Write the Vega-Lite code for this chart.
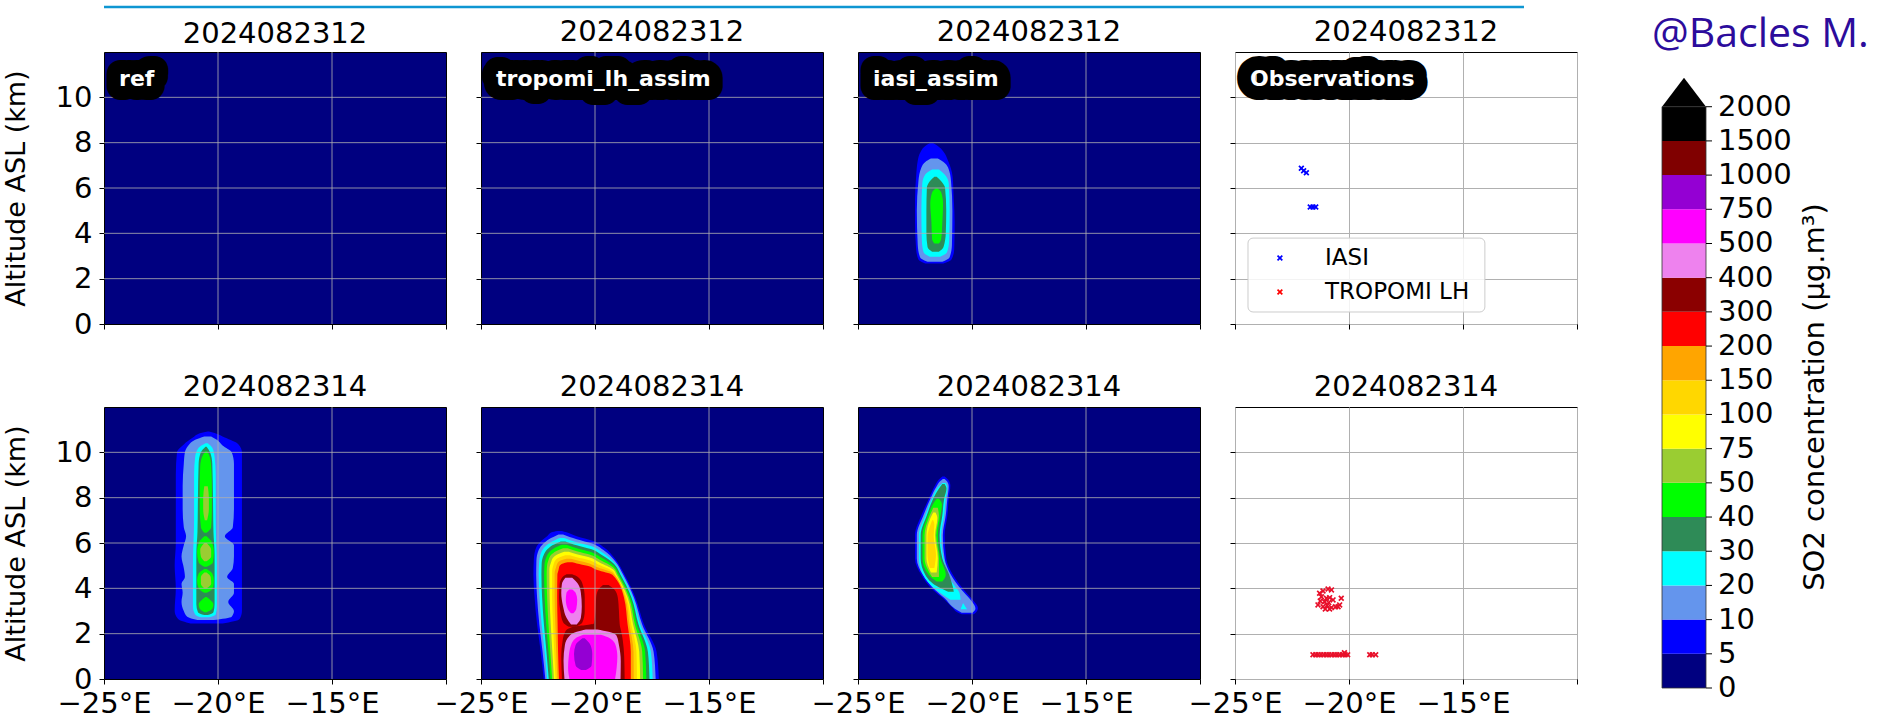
{
"padding": {"left": 1, "top": 5, "right": 0, "bottom": 0},
"autosize": {"type": "pad"},
"background": "white",
"config": {
  "font": "DejaVu Sans",
  "view": {"stroke": "black", "strokeWidth": 1},
  "axis": {"labelFontSize": 29, "labelFont": "DejaVu Sans", "labelColor": "black", "tickColor": "black", "tickSize": 5, "tickWidth": 1, "domain": false, "grid": false, "labelFlush": false, "labelOverlap": false, "titleFont": "DejaVu Sans", "titleFontWeight": "normal", "titleColor": "black"},
  "title": {"fontSize": 29, "font": "DejaVu Sans", "fontWeight": "normal", "color": "black", "frame": "group", "offset": 5, "baseline": "alphabetic", "anchor": "middle"}
},
"datasets": {
"cbar": [{"b":"b00","i":0,"i1":1},{"b":"b01","i":1,"i1":2},{"b":"b02","i":2,"i1":3},{"b":"b03","i":3,"i1":4},{"b":"b04","i":4,"i1":5},{"b":"b05","i":5,"i1":6},{"b":"b06","i":6,"i1":7},{"b":"b07","i":7,"i1":8},{"b":"b08","i":8,"i1":9},{"b":"b09","i":9,"i1":10},{"b":"b10","i":10,"i1":11},{"b":"b11","i":11,"i1":12},{"b":"b12","i":12,"i1":13},{"b":"b13","i":13,"i1":14},{"b":"b14","i":14,"i1":15},{"b":"b15","i":15,"i1":16},{"b":"b16","i":16,"i1":17}],
"cblab": [{"v":0,"lab":"0"},{"v":1,"lab":"5"},{"v":2,"lab":"10"},{"v":3,"lab":"20"},{"v":4,"lab":"30"},{"v":5,"lab":"40"},{"v":6,"lab":"50"},{"v":7,"lab":"75"},{"v":8,"lab":"100"},{"v":9,"lab":"150"},{"v":10,"lab":"200"},{"v":11,"lab":"300"},{"v":12,"lab":"400"},{"v":13,"lab":"500"},{"v":14,"lab":"750"},{"v":15,"lab":"1000"},{"v":16,"lab":"1500"},{"v":17,"lab":"2000"}],
"obs": [
{"t":"12","s":"IASI","lon":-22.09,"alt":6.87},{"t":"12","s":"IASI","lon":-21.99,"alt":6.76},{"t":"12","s":"IASI","lon":-21.87,"alt":6.67},
{"t":"12","s":"IASI","lon":-21.70,"alt":5.16},{"t":"12","s":"IASI","lon":-21.58,"alt":5.16},{"t":"12","s":"IASI","lon":-21.46,"alt":5.16},
{"t":"14","s":"TROPOMI LH","lon":-21.29,"alt":3.78},{"t":"14","s":"TROPOMI LH","lon":-21.14,"alt":3.88},{"t":"14","s":"TROPOMI LH","lon":-20.92,"alt":3.97},
{"t":"14","s":"TROPOMI LH","lon":-20.77,"alt":3.93},{"t":"14","s":"TROPOMI LH","lon":-21.21,"alt":3.63},{"t":"14","s":"TROPOMI LH","lon":-20.99,"alt":3.56},
{"t":"14","s":"TROPOMI LH","lon":-20.85,"alt":3.59},{"t":"14","s":"TROPOMI LH","lon":-20.70,"alt":3.49},{"t":"14","s":"TROPOMI LH","lon":-21.36,"alt":3.27},
{"t":"14","s":"TROPOMI LH","lon":-21.14,"alt":3.19},{"t":"14","s":"TROPOMI LH","lon":-20.96,"alt":3.24},{"t":"14","s":"TROPOMI LH","lon":-20.77,"alt":3.15},
{"t":"14","s":"TROPOMI LH","lon":-20.59,"alt":3.19},{"t":"14","s":"TROPOMI LH","lon":-20.41,"alt":3.27},{"t":"14","s":"TROPOMI LH","lon":-20.34,"alt":3.56},
{"t":"14","s":"TROPOMI LH","lon":-21.07,"alt":3.41},{"t":"14","s":"TROPOMI LH","lon":-20.89,"alt":3.37},{"t":"14","s":"TROPOMI LH","lon":-21.26,"alt":3.44},
{"t":"14","s":"TROPOMI LH","lon":-20.48,"alt":3.19},{"t":"14","s":"TROPOMI LH","lon":-20.85,"alt":3.09},{"t":"14","s":"TROPOMI LH","lon":-21.04,"alt":3.09},
{"t":"14","s":"TROPOMI LH","lon":-21.58,"alt":1.07},{"t":"14","s":"TROPOMI LH","lon":-21.46,"alt":1.07},{"t":"14","s":"TROPOMI LH","lon":-21.35,"alt":1.07},
{"t":"14","s":"TROPOMI LH","lon":-21.23,"alt":1.07},{"t":"14","s":"TROPOMI LH","lon":-21.11,"alt":1.07},{"t":"14","s":"TROPOMI LH","lon":-20.99,"alt":1.07},
{"t":"14","s":"TROPOMI LH","lon":-20.88,"alt":1.07},{"t":"14","s":"TROPOMI LH","lon":-20.76,"alt":1.07},{"t":"14","s":"TROPOMI LH","lon":-20.64,"alt":1.07},
{"t":"14","s":"TROPOMI LH","lon":-20.53,"alt":1.07},{"t":"14","s":"TROPOMI LH","lon":-20.41,"alt":1.07},{"t":"14","s":"TROPOMI LH","lon":-20.29,"alt":1.07},
{"t":"14","s":"TROPOMI LH","lon":-20.17,"alt":1.07},{"t":"14","s":"TROPOMI LH","lon":-20.06,"alt":1.07},{"t":"14","s":"TROPOMI LH","lon":-20.20,"alt":1.16},
{"t":"14","s":"TROPOMI LH","lon":-19.09,"alt":1.07},{"t":"14","s":"TROPOMI LH","lon":-18.98,"alt":1.07},{"t":"14","s":"TROPOMI LH","lon":-18.83,"alt":1.07}
],
"cont": [
{"p":"iasi12","b":"b01","k":"01a","alt":2.67,"lo":-22.05,"hi":-21.25},{"p":"iasi12","b":"b01","k":"01a","alt":2.85,"lo":-22.35,"hi":-20.90},{"p":"iasi12","b":"b01","k":"01a","alt":3.30,"lo":-22.45,"hi":-20.78},{"p":"iasi12","b":"b01","k":"01a","alt":4.50,"lo":-22.50,"hi":-20.76},{"p":"iasi12","b":"b01","k":"01a","alt":5.50,"lo":-22.50,"hi":-20.80},{"p":"iasi12","b":"b01","k":"01a","alt":6.50,"lo":-22.45,"hi":-20.85},{"p":"iasi12","b":"b01","k":"01a","alt":7.20,"lo":-22.38,"hi":-21.05},{"p":"iasi12","b":"b01","k":"01a","alt":7.60,"lo":-22.25,"hi":-21.25},{"p":"iasi12","b":"b01","k":"01a","alt":7.85,"lo":-22.05,"hi":-21.50},{"p":"iasi12","b":"b01","k":"01a","alt":7.97,"lo":-21.85,"hi":-21.70},
{"p":"iasi12","b":"b02","k":"02a","alt":2.75,"lo":-21.95,"hi":-21.30},{"p":"iasi12","b":"b02","k":"02a","alt":2.95,"lo":-22.28,"hi":-20.98},{"p":"iasi12","b":"b02","k":"02a","alt":3.50,"lo":-22.38,"hi":-20.88},{"p":"iasi12","b":"b02","k":"02a","alt":5.00,"lo":-22.42,"hi":-20.86},{"p":"iasi12","b":"b02","k":"02a","alt":6.30,"lo":-22.35,"hi":-20.92},{"p":"iasi12","b":"b02","k":"02a","alt":6.90,"lo":-22.22,"hi":-21.05},{"p":"iasi12","b":"b02","k":"02a","alt":7.15,"lo":-22.05,"hi":-21.25},{"p":"iasi12","b":"b02","k":"02a","alt":7.30,"lo":-21.80,"hi":-21.50},
{"p":"iasi12","b":"b03","k":"03a","alt":2.97,"lo":-21.85,"hi":-21.40},{"p":"iasi12","b":"b03","k":"03a","alt":3.15,"lo":-22.12,"hi":-21.10},{"p":"iasi12","b":"b03","k":"03a","alt":3.70,"lo":-22.20,"hi":-21.00},{"p":"iasi12","b":"b03","k":"03a","alt":5.00,"lo":-22.22,"hi":-20.98},{"p":"iasi12","b":"b03","k":"03a","alt":6.20,"lo":-22.18,"hi":-21.02},{"p":"iasi12","b":"b03","k":"03a","alt":6.60,"lo":-22.05,"hi":-21.20},{"p":"iasi12","b":"b03","k":"03a","alt":6.82,"lo":-21.75,"hi":-21.45},
{"p":"iasi12","b":"b04","k":"04a","alt":3.19,"lo":-21.75,"hi":-21.45},{"p":"iasi12","b":"b04","k":"04a","alt":3.40,"lo":-21.95,"hi":-21.25},{"p":"iasi12","b":"b04","k":"04a","alt":4.00,"lo":-22.00,"hi":-21.15},{"p":"iasi12","b":"b04","k":"04a","alt":5.00,"lo":-22.00,"hi":-21.13},{"p":"iasi12","b":"b04","k":"04a","alt":6.00,"lo":-21.98,"hi":-21.18},{"p":"iasi12","b":"b04","k":"04a","alt":6.30,"lo":-21.85,"hi":-21.35},{"p":"iasi12","b":"b04","k":"04a","alt":6.50,"lo":-21.65,"hi":-21.55},
{"p":"iasi12","b":"b05","k":"05a","alt":3.55,"lo":-21.65,"hi":-21.45},{"p":"iasi12","b":"b05","k":"05a","alt":3.75,"lo":-21.75,"hi":-21.35},{"p":"iasi12","b":"b05","k":"05a","alt":4.50,"lo":-21.78,"hi":-21.30},{"p":"iasi12","b":"b05","k":"05a","alt":5.30,"lo":-21.83,"hi":-21.27},{"p":"iasi12","b":"b05","k":"05a","alt":5.80,"lo":-21.75,"hi":-21.35},{"p":"iasi12","b":"b05","k":"05a","alt":5.98,"lo":-21.60,"hi":-21.50},

{"p":"ref14","b":"b01","k":"01a","alt":2.45,"lo":-21.2,"hi":-19.8},{"p":"ref14","b":"b01","k":"01a","alt":2.65,"lo":-21.75,"hi":-19.05},{"p":"ref14","b":"b01","k":"01a","alt":3.0,"lo":-21.9,"hi":-18.95},{"p":"ref14","b":"b01","k":"01a","alt":4.0,"lo":-21.85,"hi":-18.95},{"p":"ref14","b":"b01","k":"01a","alt":5.0,"lo":-21.9,"hi":-18.95},{"p":"ref14","b":"b01","k":"01a","alt":6.0,"lo":-21.85,"hi":-18.95},{"p":"ref14","b":"b01","k":"01a","alt":7.0,"lo":-21.85,"hi":-18.95},{"p":"ref14","b":"b01","k":"01a","alt":8.0,"lo":-21.85,"hi":-18.95},{"p":"ref14","b":"b01","k":"01a","alt":9.0,"lo":-21.85,"hi":-18.95},{"p":"ref14","b":"b01","k":"01a","alt":10.0,"lo":-21.8,"hi":-18.95},{"p":"ref14","b":"b01","k":"01a","alt":10.35,"lo":-21.5,"hi":-19.1},{"p":"ref14","b":"b01","k":"01a","alt":10.65,"lo":-21.1,"hi":-19.7},{"p":"ref14","b":"b01","k":"01a","alt":10.85,"lo":-20.75,"hi":-20.15},{"p":"ref14","b":"b01","k":"01a","alt":10.92,"lo":-20.45,"hi":-20.4},
{"p":"ref14","b":"b02","k":"02a","alt":2.6,"lo":-20.9,"hi":-20.2},{"p":"ref14","b":"b02","k":"02a","alt":2.75,"lo":-21.35,"hi":-19.4},{"p":"ref14","b":"b02","k":"02a","alt":3.0,"lo":-21.5,"hi":-19.3},{"p":"ref14","b":"b02","k":"02a","alt":3.4,"lo":-21.6,"hi":-19.55},{"p":"ref14","b":"b02","k":"02a","alt":3.8,"lo":-21.55,"hi":-19.3},{"p":"ref14","b":"b02","k":"02a","alt":4.2,"lo":-21.6,"hi":-19.3},{"p":"ref14","b":"b02","k":"02a","alt":4.5,"lo":-21.45,"hi":-19.6},{"p":"ref14","b":"b02","k":"02a","alt":4.9,"lo":-21.5,"hi":-19.35},{"p":"ref14","b":"b02","k":"02a","alt":5.4,"lo":-21.6,"hi":-19.3},{"p":"ref14","b":"b02","k":"02a","alt":5.9,"lo":-21.5,"hi":-19.3},{"p":"ref14","b":"b02","k":"02a","alt":6.3,"lo":-21.4,"hi":-19.7},{"p":"ref14","b":"b02","k":"02a","alt":6.7,"lo":-21.5,"hi":-19.35},{"p":"ref14","b":"b02","k":"02a","alt":7.5,"lo":-21.55,"hi":-19.3},{"p":"ref14","b":"b02","k":"02a","alt":8.5,"lo":-21.55,"hi":-19.3},{"p":"ref14","b":"b02","k":"02a","alt":9.5,"lo":-21.5,"hi":-19.3},{"p":"ref14","b":"b02","k":"02a","alt":10.0,"lo":-21.45,"hi":-19.4},{"p":"ref14","b":"b02","k":"02a","alt":10.3,"lo":-21.3,"hi":-19.8},{"p":"ref14","b":"b02","k":"02a","alt":10.55,"lo":-21.0,"hi":-20.05},{"p":"ref14","b":"b02","k":"02a","alt":10.7,"lo":-20.6,"hi":-20.3},
{"p":"ref14","b":"b03","k":"03a","alt":2.72,"lo":-20.75,"hi":-20.4},{"p":"ref14","b":"b03","k":"03a","alt":2.85,"lo":-21.0,"hi":-20.1},{"p":"ref14","b":"b03","k":"03a","alt":3.2,"lo":-21.1,"hi":-20.05},{"p":"ref14","b":"b03","k":"03a","alt":5.0,"lo":-21.1,"hi":-20.05},{"p":"ref14","b":"b03","k":"03a","alt":7.0,"lo":-21.05,"hi":-20.1},{"p":"ref14","b":"b03","k":"03a","alt":9.0,"lo":-21.05,"hi":-20.1},{"p":"ref14","b":"b03","k":"03a","alt":9.8,"lo":-21.0,"hi":-20.15},{"p":"ref14","b":"b03","k":"03a","alt":10.2,"lo":-20.85,"hi":-20.25},{"p":"ref14","b":"b03","k":"03a","alt":10.4,"lo":-20.55,"hi":-20.45},
{"p":"ref14","b":"b04","k":"04a","alt":2.82,"lo":-20.6,"hi":-20.45},{"p":"ref14","b":"b04","k":"04a","alt":2.95,"lo":-20.88,"hi":-20.2},{"p":"ref14","b":"b04","k":"04a","alt":3.3,"lo":-20.95,"hi":-20.15},{"p":"ref14","b":"b04","k":"04a","alt":5.5,"lo":-20.95,"hi":-20.15},{"p":"ref14","b":"b04","k":"04a","alt":6.5,"lo":-20.9,"hi":-20.2},{"p":"ref14","b":"b04","k":"04a","alt":8.0,"lo":-20.88,"hi":-20.22},{"p":"ref14","b":"b04","k":"04a","alt":9.5,"lo":-20.85,"hi":-20.25},{"p":"ref14","b":"b04","k":"04a","alt":10.0,"lo":-20.75,"hi":-20.35},{"p":"ref14","b":"b04","k":"04a","alt":10.25,"lo":-20.55,"hi":-20.5},
{"p":"ref14","b":"b05","k":"05a","alt":6.45,"lo":-20.6,"hi":-20.5},{"p":"ref14","b":"b05","k":"05a","alt":6.7,"lo":-20.75,"hi":-20.3},{"p":"ref14","b":"b05","k":"05a","alt":7.5,"lo":-20.8,"hi":-20.27},{"p":"ref14","b":"b05","k":"05a","alt":8.5,"lo":-20.8,"hi":-20.27},{"p":"ref14","b":"b05","k":"05a","alt":9.4,"lo":-20.78,"hi":-20.3},{"p":"ref14","b":"b05","k":"05a","alt":9.9,"lo":-20.65,"hi":-20.4},{"p":"ref14","b":"b05","k":"05a","alt":10.05,"lo":-20.55,"hi":-20.48},
{"p":"ref14","b":"b05","k":"05b","alt":4.95,"lo":-20.6,"hi":-20.5},{"p":"ref14","b":"b05","k":"05b","alt":5.15,"lo":-20.85,"hi":-20.22},{"p":"ref14","b":"b05","k":"05b","alt":5.6,"lo":-20.92,"hi":-20.18},{"p":"ref14","b":"b05","k":"05b","alt":6.0,"lo":-20.85,"hi":-20.25},{"p":"ref14","b":"b05","k":"05b","alt":6.3,"lo":-20.6,"hi":-20.5},
{"p":"ref14","b":"b05","k":"05c","alt":3.8,"lo":-20.6,"hi":-20.5},{"p":"ref14","b":"b05","k":"05c","alt":4.0,"lo":-20.85,"hi":-20.22},{"p":"ref14","b":"b05","k":"05c","alt":4.35,"lo":-20.92,"hi":-20.18},{"p":"ref14","b":"b05","k":"05c","alt":4.65,"lo":-20.85,"hi":-20.25},{"p":"ref14","b":"b05","k":"05c","alt":4.85,"lo":-20.6,"hi":-20.5},
{"p":"ref14","b":"b05","k":"05d","alt":2.95,"lo":-20.6,"hi":-20.5},{"p":"ref14","b":"b05","k":"05d","alt":3.1,"lo":-20.8,"hi":-20.25},{"p":"ref14","b":"b05","k":"05d","alt":3.3,"lo":-20.85,"hi":-20.2},{"p":"ref14","b":"b05","k":"05d","alt":3.5,"lo":-20.7,"hi":-20.35},{"p":"ref14","b":"b05","k":"05d","alt":3.62,"lo":-20.55,"hi":-20.5},
{"p":"ref14","b":"b06","k":"06a","alt":7.0,"lo":-20.58,"hi":-20.48},{"p":"ref14","b":"b06","k":"06a","alt":7.5,"lo":-20.65,"hi":-20.4},{"p":"ref14","b":"b06","k":"06a","alt":8.0,"lo":-20.65,"hi":-20.4},{"p":"ref14","b":"b06","k":"06a","alt":8.5,"lo":-20.6,"hi":-20.45},
{"p":"ref14","b":"b06","k":"06b","alt":5.2,"lo":-20.6,"hi":-20.5},{"p":"ref14","b":"b06","k":"06b","alt":5.4,"lo":-20.75,"hi":-20.3},{"p":"ref14","b":"b06","k":"06b","alt":5.7,"lo":-20.78,"hi":-20.3},{"p":"ref14","b":"b06","k":"06b","alt":6.0,"lo":-20.6,"hi":-20.5},
{"p":"ref14","b":"b06","k":"06c","alt":4.0,"lo":-20.6,"hi":-20.5},{"p":"ref14","b":"b06","k":"06c","alt":4.2,"lo":-20.75,"hi":-20.3},{"p":"ref14","b":"b06","k":"06c","alt":4.5,"lo":-20.75,"hi":-20.32},{"p":"ref14","b":"b06","k":"06c","alt":4.7,"lo":-20.6,"hi":-20.5},

{"p":"trop14","b":"b01","k":"01a","alt":0.00,"lo":-22.25,"hi":-17.20},{"p":"trop14","b":"b01","k":"01a","alt":1.20,"lo":-22.38,"hi":-17.30},{"p":"trop14","b":"b01","k":"01a","alt":2.40,"lo":-22.54,"hi":-17.85},{"p":"trop14","b":"b01","k":"01a","alt":3.60,"lo":-22.65,"hi":-18.23},{"p":"trop14","b":"b01","k":"01a","alt":4.60,"lo":-22.70,"hi":-18.70},{"p":"trop14","b":"b01","k":"01a","alt":5.30,"lo":-22.68,"hi":-19.12},{"p":"trop14","b":"b01","k":"01a","alt":5.80,"lo":-22.58,"hi":-19.60},{"p":"trop14","b":"b01","k":"01a","alt":6.10,"lo":-22.35,"hi":-20.10},{"p":"trop14","b":"b01","k":"01a","alt":6.30,"lo":-22.10,"hi":-20.80},{"p":"trop14","b":"b01","k":"01a","alt":6.47,"lo":-21.90,"hi":-21.25},{"p":"trop14","b":"b01","k":"01a","alt":6.53,"lo":-21.65,"hi":-21.45},
{"p":"trop14","b":"b02","k":"02a","alt":0.00,"lo":-22.18,"hi":-17.34},{"p":"trop14","b":"b02","k":"02a","alt":1.20,"lo":-22.30,"hi":-17.43},{"p":"trop14","b":"b02","k":"02a","alt":2.40,"lo":-22.44,"hi":-17.93},{"p":"trop14","b":"b02","k":"02a","alt":3.60,"lo":-22.54,"hi":-18.29},{"p":"trop14","b":"b02","k":"02a","alt":4.60,"lo":-22.58,"hi":-18.76},{"p":"trop14","b":"b02","k":"02a","alt":5.22,"lo":-22.57,"hi":-19.13},{"p":"trop14","b":"b02","k":"02a","alt":5.69,"lo":-22.47,"hi":-19.63},{"p":"trop14","b":"b02","k":"02a","alt":5.98,"lo":-22.26,"hi":-20.13},{"p":"trop14","b":"b02","k":"02a","alt":6.17,"lo":-22.02,"hi":-20.80},{"p":"trop14","b":"b02","k":"02a","alt":6.38,"lo":-21.60,"hi":-21.40},
{"p":"trop14","b":"b03","k":"03a","alt":0.00,"lo":-22.10,"hi":-17.47},{"p":"trop14","b":"b03","k":"03a","alt":1.20,"lo":-22.21,"hi":-17.55},{"p":"trop14","b":"b03","k":"03a","alt":2.40,"lo":-22.34,"hi":-18.01},{"p":"trop14","b":"b03","k":"03a","alt":3.60,"lo":-22.43,"hi":-18.34},{"p":"trop14","b":"b03","k":"03a","alt":4.60,"lo":-22.47,"hi":-18.82},{"p":"trop14","b":"b03","k":"03a","alt":5.14,"lo":-22.45,"hi":-19.15},{"p":"trop14","b":"b03","k":"03a","alt":5.58,"lo":-22.36,"hi":-19.67},{"p":"trop14","b":"b03","k":"03a","alt":5.86,"lo":-22.17,"hi":-20.15},{"p":"trop14","b":"b03","k":"03a","alt":6.03,"lo":-21.94,"hi":-20.80},{"p":"trop14","b":"b03","k":"03a","alt":6.22,"lo":-21.55,"hi":-21.35},
{"p":"trop14","b":"b04","k":"04a","alt":0.00,"lo":-22.03,"hi":-17.61},{"p":"trop14","b":"b04","k":"04a","alt":1.20,"lo":-22.13,"hi":-17.68},{"p":"trop14","b":"b04","k":"04a","alt":2.40,"lo":-22.24,"hi":-18.09},{"p":"trop14","b":"b04","k":"04a","alt":3.60,"lo":-22.32,"hi":-18.40},{"p":"trop14","b":"b04","k":"04a","alt":4.60,"lo":-22.35,"hi":-18.88},{"p":"trop14","b":"b04","k":"04a","alt":5.07,"lo":-22.34,"hi":-19.16},{"p":"trop14","b":"b04","k":"04a","alt":5.47,"lo":-22.25,"hi":-19.70},{"p":"trop14","b":"b04","k":"04a","alt":5.73,"lo":-22.08,"hi":-20.18},{"p":"trop14","b":"b04","k":"04a","alt":5.90,"lo":-21.87,"hi":-20.80},{"p":"trop14","b":"b04","k":"04a","alt":6.07,"lo":-21.50,"hi":-21.30},
{"p":"trop14","b":"b05","k":"05a","alt":0.00,"lo":-21.95,"hi":-17.75},{"p":"trop14","b":"b05","k":"05a","alt":1.20,"lo":-22.04,"hi":-17.80},{"p":"trop14","b":"b05","k":"05a","alt":2.40,"lo":-22.14,"hi":-18.17},{"p":"trop14","b":"b05","k":"05a","alt":3.60,"lo":-22.21,"hi":-18.45},{"p":"trop14","b":"b05","k":"05a","alt":4.60,"lo":-22.23,"hi":-18.94},{"p":"trop14","b":"b05","k":"05a","alt":4.99,"lo":-22.22,"hi":-19.17},{"p":"trop14","b":"b05","k":"05a","alt":5.36,"lo":-22.14,"hi":-19.73},{"p":"trop14","b":"b05","k":"05a","alt":5.61,"lo":-21.99,"hi":-20.21},{"p":"trop14","b":"b05","k":"05a","alt":5.77,"lo":-21.79,"hi":-20.80},{"p":"trop14","b":"b05","k":"05a","alt":5.92,"lo":-21.45,"hi":-21.25},
{"p":"trop14","b":"b06","k":"06a","alt":0.00,"lo":-21.88,"hi":-17.89},{"p":"trop14","b":"b06","k":"06a","alt":1.20,"lo":-21.96,"hi":-17.93},{"p":"trop14","b":"b06","k":"06a","alt":2.40,"lo":-22.04,"hi":-18.25},{"p":"trop14","b":"b06","k":"06a","alt":3.60,"lo":-22.10,"hi":-18.51},{"p":"trop14","b":"b06","k":"06a","alt":4.60,"lo":-22.12,"hi":-19.00},{"p":"trop14","b":"b06","k":"06a","alt":4.91,"lo":-22.11,"hi":-19.19},{"p":"trop14","b":"b06","k":"06a","alt":5.25,"lo":-22.04,"hi":-19.77},{"p":"trop14","b":"b06","k":"06a","alt":5.49,"lo":-21.91,"hi":-20.24},{"p":"trop14","b":"b06","k":"06a","alt":5.64,"lo":-21.71,"hi":-20.80},{"p":"trop14","b":"b06","k":"06a","alt":5.77,"lo":-21.40,"hi":-21.20},
{"p":"trop14","b":"b07","k":"07a","alt":0.00,"lo":-21.80,"hi":-18.02},{"p":"trop14","b":"b07","k":"07a","alt":1.20,"lo":-21.87,"hi":-18.06},{"p":"trop14","b":"b07","k":"07a","alt":2.40,"lo":-21.94,"hi":-18.33},{"p":"trop14","b":"b07","k":"07a","alt":3.60,"lo":-21.99,"hi":-18.57},{"p":"trop14","b":"b07","k":"07a","alt":4.60,"lo":-22.00,"hi":-19.06},{"p":"trop14","b":"b07","k":"07a","alt":4.83,"lo":-22.00,"hi":-19.20},{"p":"trop14","b":"b07","k":"07a","alt":5.14,"lo":-21.93,"hi":-19.80},{"p":"trop14","b":"b07","k":"07a","alt":5.37,"lo":-21.82,"hi":-20.26},{"p":"trop14","b":"b07","k":"07a","alt":5.50,"lo":-21.63,"hi":-20.80},{"p":"trop14","b":"b07","k":"07a","alt":5.61,"lo":-21.35,"hi":-21.15},
{"p":"trop14","b":"b08","k":"08a","alt":0.00,"lo":-21.73,"hi":-18.16},{"p":"trop14","b":"b08","k":"08a","alt":1.20,"lo":-21.79,"hi":-18.18},{"p":"trop14","b":"b08","k":"08a","alt":2.40,"lo":-21.84,"hi":-18.41},{"p":"trop14","b":"b08","k":"08a","alt":3.60,"lo":-21.88,"hi":-18.62},{"p":"trop14","b":"b08","k":"08a","alt":4.60,"lo":-21.88,"hi":-19.12},{"p":"trop14","b":"b08","k":"08a","alt":4.75,"lo":-21.88,"hi":-19.21},{"p":"trop14","b":"b08","k":"08a","alt":5.04,"lo":-21.82,"hi":-19.83},{"p":"trop14","b":"b08","k":"08a","alt":5.25,"lo":-21.73,"hi":-20.29},{"p":"trop14","b":"b08","k":"08a","alt":5.37,"lo":-21.55,"hi":-20.80},{"p":"trop14","b":"b08","k":"08a","alt":5.46,"lo":-21.30,"hi":-21.10},
{"p":"trop14","b":"b09","k":"09a","alt":0.00,"lo":-21.65,"hi":-18.30},{"p":"trop14","b":"b09","k":"09a","alt":1.20,"lo":-21.70,"hi":-18.31},{"p":"trop14","b":"b09","k":"09a","alt":2.40,"lo":-21.74,"hi":-18.49},{"p":"trop14","b":"b09","k":"09a","alt":3.60,"lo":-21.77,"hi":-18.68},{"p":"trop14","b":"b09","k":"09a","alt":4.68,"lo":-21.77,"hi":-19.22},{"p":"trop14","b":"b09","k":"09a","alt":4.92,"lo":-21.71,"hi":-19.86},{"p":"trop14","b":"b09","k":"09a","alt":5.12,"lo":-21.64,"hi":-20.32},{"p":"trop14","b":"b09","k":"09a","alt":5.24,"lo":-21.48,"hi":-20.80},{"p":"trop14","b":"b09","k":"09a","alt":5.31,"lo":-21.25,"hi":-21.05},
{"p":"trop14","b":"b10","k":"10a","alt":0.00,"lo":-21.58,"hi":-18.43},{"p":"trop14","b":"b10","k":"10a","alt":1.20,"lo":-21.62,"hi":-18.43},{"p":"trop14","b":"b10","k":"10a","alt":2.40,"lo":-21.64,"hi":-18.57},{"p":"trop14","b":"b10","k":"10a","alt":3.60,"lo":-21.66,"hi":-18.73},{"p":"trop14","b":"b10","k":"10a","alt":4.60,"lo":-21.65,"hi":-19.24},{"p":"trop14","b":"b10","k":"10a","alt":4.81,"lo":-21.60,"hi":-19.90},{"p":"trop14","b":"b10","k":"10a","alt":5.00,"lo":-21.55,"hi":-20.34},{"p":"trop14","b":"b10","k":"10a","alt":5.10,"lo":-21.40,"hi":-20.80},{"p":"trop14","b":"b10","k":"10a","alt":5.15,"lo":-21.20,"hi":-21.00},
{"p":"trop14","b":"b11","k":"11a","alt":0.00,"lo":-21.45,"hi":-18.70},{"p":"trop14","b":"b11","k":"11a","alt":1.00,"lo":-21.48,"hi":-18.72},{"p":"trop14","b":"b11","k":"11a","alt":1.70,"lo":-21.42,"hi":-18.78},{"p":"trop14","b":"b11","k":"11a","alt":2.10,"lo":-21.30,"hi":-18.85},{"p":"trop14","b":"b11","k":"11a","alt":2.30,"lo":-20.95,"hi":-18.90},{"p":"trop14","b":"b11","k":"11a","alt":2.45,"lo":-20.05,"hi":-18.92},{"p":"trop14","b":"b11","k":"11a","alt":3.00,"lo":-19.98,"hi":-18.95},{"p":"trop14","b":"b11","k":"11a","alt":3.60,"lo":-19.95,"hi":-19.00},{"p":"trop14","b":"b11","k":"11a","alt":3.95,"lo":-19.85,"hi":-19.15},{"p":"trop14","b":"b11","k":"11a","alt":4.15,"lo":-19.65,"hi":-19.40},
{"p":"trop14","b":"b11","k":"11b","alt":2.30,"lo":-21.15,"hi":-20.85},{"p":"trop14","b":"b11","k":"11b","alt":2.50,"lo":-21.40,"hi":-20.55},{"p":"trop14","b":"b11","k":"11b","alt":3.00,"lo":-21.52,"hi":-20.45},{"p":"trop14","b":"b11","k":"11b","alt":3.60,"lo":-21.58,"hi":-20.45},{"p":"trop14","b":"b11","k":"11b","alt":4.20,"lo":-21.55,"hi":-20.55},{"p":"trop14","b":"b11","k":"11b","alt":4.50,"lo":-21.42,"hi":-20.75},{"p":"trop14","b":"b11","k":"11b","alt":4.62,"lo":-21.25,"hi":-21.00},
{"p":"trop14","b":"b12","k":"12a","alt":2.40,"lo":-21.05,"hi":-20.80},{"p":"trop14","b":"b12","k":"12a","alt":2.70,"lo":-21.25,"hi":-20.62},{"p":"trop14","b":"b12","k":"12a","alt":3.20,"lo":-21.40,"hi":-20.58},{"p":"trop14","b":"b12","k":"12a","alt":3.80,"lo":-21.48,"hi":-20.62},{"p":"trop14","b":"b12","k":"12a","alt":4.20,"lo":-21.45,"hi":-20.75},{"p":"trop14","b":"b12","k":"12a","alt":4.47,"lo":-21.30,"hi":-21.00},
{"p":"trop14","b":"b12","k":"12b","alt":0.00,"lo":-21.34,"hi":-18.88},{"p":"trop14","b":"b12","k":"12b","alt":0.80,"lo":-21.38,"hi":-18.87},{"p":"trop14","b":"b12","k":"12b","alt":1.50,"lo":-21.32,"hi":-18.95},{"p":"trop14","b":"b12","k":"12b","alt":1.90,"lo":-21.12,"hi":-19.05},{"p":"trop14","b":"b12","k":"12b","alt":2.08,"lo":-20.80,"hi":-19.40},{"p":"trop14","b":"b12","k":"12b","alt":2.18,"lo":-20.40,"hi":-19.90},
{"p":"trop14","b":"b13","k":"13a","alt":2.90,"lo":-21.05,"hi":-20.95},{"p":"trop14","b":"b13","k":"13a","alt":3.10,"lo":-21.20,"hi":-20.82},{"p":"trop14","b":"b13","k":"13a","alt":3.50,"lo":-21.28,"hi":-20.78},{"p":"trop14","b":"b13","k":"13a","alt":3.80,"lo":-21.25,"hi":-20.85},{"p":"trop14","b":"b13","k":"13a","alt":3.95,"lo":-21.12,"hi":-21.00},
{"p":"trop14","b":"b13","k":"13b","alt":0.00,"lo":-21.12,"hi":-19.12},{"p":"trop14","b":"b13","k":"13b","alt":0.50,"lo":-21.18,"hi":-19.05},{"p":"trop14","b":"b13","k":"13b","alt":1.00,"lo":-21.15,"hi":-19.02},{"p":"trop14","b":"b13","k":"13b","alt":1.50,"lo":-21.05,"hi":-19.10},{"p":"trop14","b":"b13","k":"13b","alt":1.80,"lo":-20.85,"hi":-19.35},{"p":"trop14","b":"b13","k":"13b","alt":1.95,"lo":-20.50,"hi":-19.75},
{"p":"trop14","b":"b14","k":"14a","alt":0.40,"lo":-20.60,"hi":-20.40},{"p":"trop14","b":"b14","k":"14a","alt":0.60,"lo":-20.85,"hi":-20.15},{"p":"trop14","b":"b14","k":"14a","alt":1.10,"lo":-20.92,"hi":-20.12},{"p":"trop14","b":"b14","k":"14a","alt":1.50,"lo":-20.85,"hi":-20.20},{"p":"trop14","b":"b14","k":"14a","alt":1.80,"lo":-20.55,"hi":-20.45},

{"p":"iasi14","b":"b01","k":"01a","alt":2.86,"lo":-20.45,"hi":-19.92},{"p":"iasi14","b":"b01","k":"01a","alt":2.95,"lo":-20.65,"hi":-19.82},{"p":"iasi14","b":"b01","k":"01a","alt":3.12,"lo":-20.83,"hi":-19.74},{"p":"iasi14","b":"b01","k":"01a","alt":3.56,"lo":-21.27,"hi":-20.03},{"p":"iasi14","b":"b01","k":"01a","alt":3.93,"lo":-21.71,"hi":-20.35},{"p":"iasi14","b":"b01","k":"01a","alt":4.59,"lo":-22.22,"hi":-20.83},{"p":"iasi14","b":"b01","k":"01a","alt":5.32,"lo":-22.50,"hi":-21.13},{"p":"iasi14","b":"b01","k":"01a","alt":6.34,"lo":-22.50,"hi":-21.20},{"p":"iasi14","b":"b01","k":"01a","alt":7.22,"lo":-22.22,"hi":-21.08},{"p":"iasi14","b":"b01","k":"01a","alt":7.96,"lo":-21.89,"hi":-21.02},{"p":"iasi14","b":"b01","k":"01a","alt":8.54,"lo":-21.62,"hi":-20.95},{"p":"iasi14","b":"b01","k":"01a","alt":8.80,"lo":-21.45,"hi":-21.05},{"p":"iasi14","b":"b01","k":"01a","alt":8.93,"lo":-21.30,"hi":-21.20},
{"p":"iasi14","b":"b02","k":"02a","alt":2.92,"lo":-20.45,"hi":-19.98},{"p":"iasi14","b":"b02","k":"02a","alt":3.10,"lo":-20.75,"hi":-19.85},{"p":"iasi14","b":"b02","k":"02a","alt":3.56,"lo":-21.20,"hi":-20.12},{"p":"iasi14","b":"b02","k":"02a","alt":3.93,"lo":-21.62,"hi":-20.45},{"p":"iasi14","b":"b02","k":"02a","alt":4.59,"lo":-22.15,"hi":-20.92},{"p":"iasi14","b":"b02","k":"02a","alt":5.32,"lo":-22.42,"hi":-21.20},{"p":"iasi14","b":"b02","k":"02a","alt":6.34,"lo":-22.42,"hi":-21.28},{"p":"iasi14","b":"b02","k":"02a","alt":7.22,"lo":-22.13,"hi":-21.15},{"p":"iasi14","b":"b02","k":"02a","alt":7.96,"lo":-21.82,"hi":-21.08},{"p":"iasi14","b":"b02","k":"02a","alt":8.50,"lo":-21.55,"hi":-21.02},{"p":"iasi14","b":"b02","k":"02a","alt":8.72,"lo":-21.40,"hi":-21.10},{"p":"iasi14","b":"b02","k":"02a","alt":8.82,"lo":-21.28,"hi":-21.20},
{"p":"iasi14","b":"b03","k":"03a","alt":3.50,"lo":-20.95,"hi":-20.50},{"p":"iasi14","b":"b03","k":"03a","alt":3.80,"lo":-21.40,"hi":-20.55},{"p":"iasi14","b":"b03","k":"03a","alt":4.30,"lo":-21.95,"hi":-20.90},{"p":"iasi14","b":"b03","k":"03a","alt":5.32,"lo":-22.33,"hi":-21.25},{"p":"iasi14","b":"b03","k":"03a","alt":6.34,"lo":-22.33,"hi":-21.35},{"p":"iasi14","b":"b03","k":"03a","alt":7.22,"lo":-22.05,"hi":-21.22},{"p":"iasi14","b":"b03","k":"03a","alt":7.96,"lo":-21.75,"hi":-21.15},{"p":"iasi14","b":"b03","k":"03a","alt":8.45,"lo":-21.50,"hi":-21.08},{"p":"iasi14","b":"b03","k":"03a","alt":8.65,"lo":-21.30,"hi":-21.15},
{"p":"iasi14","b":"b03","k":"03b","alt":3.08,"lo":-20.50,"hi":-20.22},{"p":"iasi14","b":"b03","k":"03b","alt":3.20,"lo":-20.45,"hi":-20.30},{"p":"iasi14","b":"b03","k":"03b","alt":3.33,"lo":-20.40,"hi":-20.37},
{"p":"iasi14","b":"b04","k":"04a","alt":3.85,"lo":-21.05,"hi":-20.80},{"p":"iasi14","b":"b04","k":"04a","alt":4.10,"lo":-21.55,"hi":-20.85},{"p":"iasi14","b":"b04","k":"04a","alt":4.60,"lo":-22.05,"hi":-21.00},{"p":"iasi14","b":"b04","k":"04a","alt":5.32,"lo":-22.25,"hi":-21.30},{"p":"iasi14","b":"b04","k":"04a","alt":6.34,"lo":-22.25,"hi":-21.42},{"p":"iasi14","b":"b04","k":"04a","alt":7.22,"lo":-21.98,"hi":-21.30},{"p":"iasi14","b":"b04","k":"04a","alt":7.96,"lo":-21.70,"hi":-21.22},{"p":"iasi14","b":"b04","k":"04a","alt":8.40,"lo":-21.45,"hi":-21.12},{"p":"iasi14","b":"b04","k":"04a","alt":8.60,"lo":-21.30,"hi":-21.20},
{"p":"iasi14","b":"b05","k":"05a","alt":4.30,"lo":-21.55,"hi":-21.30},{"p":"iasi14","b":"b05","k":"05a","alt":4.60,"lo":-21.90,"hi":-21.15},{"p":"iasi14","b":"b05","k":"05a","alt":5.32,"lo":-22.17,"hi":-21.38},{"p":"iasi14","b":"b05","k":"05a","alt":6.34,"lo":-22.17,"hi":-21.50},{"p":"iasi14","b":"b05","k":"05a","alt":7.22,"lo":-21.92,"hi":-21.38},{"p":"iasi14","b":"b05","k":"05a","alt":7.70,"lo":-21.72,"hi":-21.32},{"p":"iasi14","b":"b05","k":"05a","alt":7.95,"lo":-21.55,"hi":-21.45},
{"p":"iasi14","b":"b06","k":"06a","alt":4.50,"lo":-21.75,"hi":-21.45},{"p":"iasi14","b":"b06","k":"06a","alt":5.32,"lo":-22.08,"hi":-21.45},{"p":"iasi14","b":"b06","k":"06a","alt":6.34,"lo":-22.08,"hi":-21.57},{"p":"iasi14","b":"b06","k":"06a","alt":7.22,"lo":-21.85,"hi":-21.45},{"p":"iasi14","b":"b06","k":"06a","alt":7.55,"lo":-21.70,"hi":-21.50},
{"p":"iasi14","b":"b07","k":"07a","alt":4.70,"lo":-21.80,"hi":-21.55},{"p":"iasi14","b":"b07","k":"07a","alt":5.32,"lo":-22.00,"hi":-21.50},{"p":"iasi14","b":"b07","k":"07a","alt":6.34,"lo":-22.00,"hi":-21.62},{"p":"iasi14","b":"b07","k":"07a","alt":7.10,"lo":-21.82,"hi":-21.52},{"p":"iasi14","b":"b07","k":"07a","alt":7.35,"lo":-21.70,"hi":-21.60},
{"p":"iasi14","b":"b08","k":"08a","alt":4.90,"lo":-21.85,"hi":-21.65},{"p":"iasi14","b":"b08","k":"08a","alt":5.50,"lo":-21.95,"hi":-21.58},{"p":"iasi14","b":"b08","k":"08a","alt":6.30,"lo":-21.95,"hi":-21.68},{"p":"iasi14","b":"b08","k":"08a","alt":6.80,"lo":-21.82,"hi":-21.65},{"p":"iasi14","b":"b08","k":"08a","alt":7.00,"lo":-21.75,"hi":-21.70}
]
},
"hconcat": [
 {
  "vconcat": [
   {
    "hconcat": [
      {
        "width": 342, "height": 272,
        "view": {"fill": "#000080", "stroke": "black"},
        "layer": [
          {"data": {"name": "cont"}, "transform": [{"filter": "datum.p == 'ref12'"}],
           "mark": {"type": "area", "orient": "horizontal", "interpolate": "monotone", "clip": true},
           "encoding": {
             "y": {"field": "alt", "type": "quantitative", "scale": {"domain": [0, 12], "nice": false, "zero": false}, "axis": {"values": [0, 2, 4, 6, 8, 10], "title": "Altitude ASL (km)", "titleFontSize": 27, "labelPadding": 7, "titlePadding": 25}},
             "x": {"field": "lo", "type": "quantitative", "stack": null, "scale": {"domain": [-25, -10], "nice": false, "zero": false}, "axis": {"values": [-25, -20, -15, -10], "labels": false, "title": null}},
             "x2": {"field": "hi"},
             "color": {"field": "b", "type": "nominal", "scale": {"domain": ["b00","b01","b02","b03","b04","b05","b06","b07","b08","b09","b10","b11","b12","b13","b14","b15","b16"], "range": ["#000080","#0000ff","#6495ed","#00ffff","#2e8b57","#00ff00","#9acd32","#ffff00","#ffd700","#ffa500","#ff0000","#8b0000","#ee82ee","#ff00ff","#9400d3","#800000","#000000"]}, "legend": null},
             "detail": {"field": "k"}
           }},
          {"data": {"values": [{"g": -20}, {"g": -15}]}, "mark": {"type": "rule", "color": "#b0b0b0", "strokeWidth": 1, "opacity": 0.8}, "encoding": {"x": {"field": "g", "type": "quantitative"}}},
          {"data": {"values": [{"h": 2}, {"h": 4}, {"h": 6}, {"h": 8}, {"h": 10}]}, "mark": {"type": "rule", "color": "#b0b0b0", "strokeWidth": 1, "opacity": 0.8}, "encoding": {"y": {"field": "h", "type": "quantitative"}}},
          {"data": {"values": [{"name": "ref"}]}, "mark": {"type": "text", "align": "left", "baseline": "alphabetic", "fontSize": 22, "fontWeight": "bold", "font": "DejaVu Sans", "fill": "black", "stroke": "black", "strokeWidth": 28, "strokeJoin": "round"}, "encoding": {"x": {"datum": -24.34, "type": "quantitative"}, "y": {"datum": 10.5, "type": "quantitative"}, "text": {"field": "name"}}},
          {"data": {"values": [{"name": "ref"}]}, "mark": {"type": "text", "align": "left", "baseline": "alphabetic", "fontSize": 22, "fontWeight": "bold", "font": "DejaVu Sans", "fill": "white"}, "encoding": {"x": {"datum": -24.34, "type": "quantitative"}, "y": {"datum": 10.5, "type": "quantitative"}, "text": {"field": "name"}}},
          {"data": {"values": [{"name": "2024082312"}]}, "mark": {"type": "text", "align": "center", "baseline": "alphabetic", "fontSize": 29, "font": "DejaVu Sans", "color": "black"}, "encoding": {"x": {"datum": -17.5, "type": "quantitative"}, "y": {"datum": 12.397, "type": "quantitative"}, "text": {"field": "name"}}},
          {"data": {"values": [{"z": 1}]}, "mark": {"type": "rect", "color": "#0e96d2"}, "encoding": {"x": {"datum": -25, "type": "quantitative"}, "x2": {"datum": 37.28}, "y": {"datum": 13.93, "type": "quantitative"}, "y2": {"datum": 14.04}}}
        ]
      },
      {
        "width": 342, "height": 272, "title": "2024082312",
        "view": {"fill": "#000080", "stroke": "black"},
        "layer": [
          {"data": {"name": "cont"}, "transform": [{"filter": "datum.p == 'trop12'"}],
           "mark": {"type": "area", "orient": "horizontal", "interpolate": "monotone", "clip": true},
           "encoding": {
             "y": {"field": "alt", "type": "quantitative", "scale": {"domain": [0, 12], "nice": false, "zero": false}, "axis": {"values": [0, 2, 4, 6, 8, 10], "labels": false, "title": null}},
             "x": {"field": "lo", "type": "quantitative", "stack": null, "scale": {"domain": [-25, -10], "nice": false, "zero": false}, "axis": {"values": [-25, -20, -15, -10], "labels": false, "title": null}},
             "x2": {"field": "hi"},
             "color": {"field": "b", "type": "nominal", "scale": {"domain": ["b00","b01","b02","b03","b04","b05","b06","b07","b08","b09","b10","b11","b12","b13","b14","b15","b16"], "range": ["#000080","#0000ff","#6495ed","#00ffff","#2e8b57","#00ff00","#9acd32","#ffff00","#ffd700","#ffa500","#ff0000","#8b0000","#ee82ee","#ff00ff","#9400d3","#800000","#000000"]}, "legend": null},
             "detail": {"field": "k"}
           }},
          {"data": {"values": [{"g": -20}, {"g": -15}]}, "mark": {"type": "rule", "color": "#b0b0b0", "strokeWidth": 1, "opacity": 0.8}, "encoding": {"x": {"field": "g", "type": "quantitative"}}},
          {"data": {"values": [{"h": 2}, {"h": 4}, {"h": 6}, {"h": 8}, {"h": 10}]}, "mark": {"type": "rule", "color": "#b0b0b0", "strokeWidth": 1, "opacity": 0.8}, "encoding": {"y": {"field": "h", "type": "quantitative"}}},
          {"data": {"values": [{"name": "tropomi_lh_assim"}]}, "mark": {"type": "text", "align": "left", "baseline": "alphabetic", "fontSize": 22, "fontWeight": "bold", "font": "DejaVu Sans", "fill": "black", "stroke": "black", "strokeWidth": 28, "strokeJoin": "round"}, "encoding": {"x": {"datum": -24.34, "type": "quantitative"}, "y": {"datum": 10.5, "type": "quantitative"}, "text": {"field": "name"}}},
          {"data": {"values": [{"name": "tropomi_lh_assim"}]}, "mark": {"type": "text", "align": "left", "baseline": "alphabetic", "fontSize": 22, "fontWeight": "bold", "font": "DejaVu Sans", "fill": "white"}, "encoding": {"x": {"datum": -24.34, "type": "quantitative"}, "y": {"datum": 10.5, "type": "quantitative"}, "text": {"field": "name"}}}
        ]
      },
      {
        "width": 342, "height": 272, "title": "2024082312",
        "view": {"fill": "#000080", "stroke": "black"},
        "layer": [
          {"data": {"name": "cont"}, "transform": [{"filter": "datum.p == 'iasi12'"}],
           "mark": {"type": "area", "orient": "horizontal", "interpolate": "monotone", "clip": true},
           "encoding": {
             "y": {"field": "alt", "type": "quantitative", "scale": {"domain": [0, 12], "nice": false, "zero": false}, "axis": {"values": [0, 2, 4, 6, 8, 10], "labels": false, "title": null}},
             "x": {"field": "lo", "type": "quantitative", "stack": null, "scale": {"domain": [-25, -10], "nice": false, "zero": false}, "axis": {"values": [-25, -20, -15, -10], "labels": false, "title": null}},
             "x2": {"field": "hi"},
             "color": {"field": "b", "type": "nominal", "scale": {"domain": ["b00","b01","b02","b03","b04","b05","b06","b07","b08","b09","b10","b11","b12","b13","b14","b15","b16"], "range": ["#000080","#0000ff","#6495ed","#00ffff","#2e8b57","#00ff00","#9acd32","#ffff00","#ffd700","#ffa500","#ff0000","#8b0000","#ee82ee","#ff00ff","#9400d3","#800000","#000000"]}, "legend": null},
             "detail": {"field": "k"}
           }},
          {"data": {"values": [{"g": -20}, {"g": -15}]}, "mark": {"type": "rule", "color": "#b0b0b0", "strokeWidth": 1, "opacity": 0.8}, "encoding": {"x": {"field": "g", "type": "quantitative"}}},
          {"data": {"values": [{"h": 2}, {"h": 4}, {"h": 6}, {"h": 8}, {"h": 10}]}, "mark": {"type": "rule", "color": "#b0b0b0", "strokeWidth": 1, "opacity": 0.8}, "encoding": {"y": {"field": "h", "type": "quantitative"}}},
          {"data": {"values": [{"name": "iasi_assim"}]}, "mark": {"type": "text", "align": "left", "baseline": "alphabetic", "fontSize": 22, "fontWeight": "bold", "font": "DejaVu Sans", "fill": "black", "stroke": "black", "strokeWidth": 28, "strokeJoin": "round"}, "encoding": {"x": {"datum": -24.34, "type": "quantitative"}, "y": {"datum": 10.5, "type": "quantitative"}, "text": {"field": "name"}}},
          {"data": {"values": [{"name": "iasi_assim"}]}, "mark": {"type": "text", "align": "left", "baseline": "alphabetic", "fontSize": 22, "fontWeight": "bold", "font": "DejaVu Sans", "fill": "white"}, "encoding": {"x": {"datum": -24.34, "type": "quantitative"}, "y": {"datum": 10.5, "type": "quantitative"}, "text": {"field": "name"}}}
        ]
      },
      {
        "width": 342, "height": 272, "title": "2024082312",
        "view": {"fill": "white", "stroke": "black"},
        "layer": [
          {"data": {"name": "obs"}, "transform": [{"filter": "datum.t == '12'"}],
           "mark": {"type": "point", "filled": true, "size": 36, "opacity": 1, "color": "#0000ff", "shape": "M-1,-0.6L-0.6,-1L0,-0.4L0.6,-1L1,-0.6L0.4,0L1,0.6L0.6,1L0,0.4L-0.6,1L-1,0.6L-0.4,0Z"},
           "encoding": {
             "y": {"field": "alt", "type": "quantitative", "scale": {"domain": [0, 12], "nice": false, "zero": false}, "axis": {"values": [0, 2, 4, 6, 8, 10], "labels": false, "title": null, "grid": true, "gridColor": "#b0b0b0", "gridOpacity": 1}},
             "x": {"field": "lon", "type": "quantitative", "scale": {"domain": [-25, -10], "nice": false, "zero": false}, "axis": {"values": [-25, -20, -15, -10], "labels": false, "title": null, "grid": true, "gridColor": "#b0b0b0", "gridOpacity": 1}}
           }},
          {"data": {"values": [{"z": 1}]}, "mark": {"type": "rect", "fill": "white", "fillOpacity": 0.85, "stroke": "#cccccc", "strokeWidth": 1, "cornerRadius": 5}, "encoding": {"x": {"datum": -24.43, "type": "quantitative"}, "x2": {"datum": -14.04}, "y": {"datum": 0.53, "type": "quantitative"}, "y2": {"datum": 3.79}}},
          {"data": {"values": [{"z": 1}]}, "mark": {"type": "point", "filled": true, "size": 36, "opacity": 1, "color": "#0000ff", "shape": "M-1,-0.6L-0.6,-1L0,-0.4L0.6,-1L1,-0.6L0.4,0L1,0.6L0.6,1L0,0.4L-0.6,1L-1,0.6L-0.4,0Z"}, "encoding": {"x": {"datum": -23.03, "type": "quantitative"}, "y": {"datum": 2.91, "type": "quantitative"}}},
          {"data": {"values": [{"z": 1}]}, "mark": {"type": "point", "filled": true, "size": 36, "opacity": 1, "color": "#ff0000", "shape": "M-1,-0.6L-0.6,-1L0,-0.4L0.6,-1L1,-0.6L0.4,0L1,0.6L0.6,1L0,0.4L-0.6,1L-1,0.6L-0.4,0Z"}, "encoding": {"x": {"datum": -23.03, "type": "quantitative"}, "y": {"datum": 1.41, "type": "quantitative"}}},
          {"data": {"values": [{"name": "IASI"}]}, "mark": {"type": "text", "align": "left", "baseline": "middle", "fontSize": 23, "font": "DejaVu Sans", "color": "black"}, "encoding": {"x": {"datum": -21.05, "type": "quantitative"}, "y": {"datum": 2.91, "type": "quantitative"}, "text": {"field": "name"}}},
          {"data": {"values": [{"name": "TROPOMI LH"}]}, "mark": {"type": "text", "align": "left", "baseline": "middle", "fontSize": 23, "font": "DejaVu Sans", "color": "black"}, "encoding": {"x": {"datum": -21.05, "type": "quantitative"}, "y": {"datum": 1.41, "type": "quantitative"}, "text": {"field": "name"}}},
          {"data": {"values": [{"name": "Observations"}]}, "mark": {"type": "text", "align": "left", "baseline": "alphabetic", "fontSize": 22, "fontWeight": "bold", "font": "DejaVu Sans", "fill": "black", "stroke": "black", "strokeWidth": 28, "strokeJoin": "round"}, "encoding": {"x": {"datum": -24.34, "type": "quantitative"}, "y": {"datum": 10.5, "type": "quantitative"}, "text": {"field": "name"}}},
          {"data": {"values": [{"name": "Observations"}]}, "mark": {"type": "text", "align": "left", "baseline": "alphabetic", "fontSize": 22, "fontWeight": "bold", "font": "DejaVu Sans", "fill": "white"}, "encoding": {"x": {"datum": -24.34, "type": "quantitative"}, "y": {"datum": 10.5, "type": "quantitative"}, "text": {"field": "name"}}}
        ]
      }
    ],
    "spacing": 35, "bounds": "flush"
   },
   {
    "hconcat": [
      {
        "width": 342, "height": 272, "title": "2024082314",
        "view": {"fill": "#000080", "stroke": "black"},
        "layer": [
          {"data": {"name": "cont"}, "transform": [{"filter": "datum.p == 'ref14'"}],
           "mark": {"type": "area", "orient": "horizontal", "interpolate": "monotone", "clip": true},
           "encoding": {
             "y": {"field": "alt", "type": "quantitative", "scale": {"domain": [0, 12], "nice": false, "zero": false}, "axis": {"values": [0, 2, 4, 6, 8, 10], "title": "Altitude ASL (km)", "titleFontSize": 27, "labelPadding": 7, "titlePadding": 25}},
             "x": {"field": "lo", "type": "quantitative", "stack": null, "scale": {"domain": [-25, -10], "nice": false, "zero": false}, "axis": {"values": [-25, -20, -15, -10], "labelExpr": "datum.value == -10 ? '' : '−' + (-datum.value) + '°E'", "labelPadding": 5, "title": null}},
             "x2": {"field": "hi"},
             "color": {"field": "b", "type": "nominal", "scale": {"domain": ["b00","b01","b02","b03","b04","b05","b06","b07","b08","b09","b10","b11","b12","b13","b14","b15","b16"], "range": ["#000080","#0000ff","#6495ed","#00ffff","#2e8b57","#00ff00","#9acd32","#ffff00","#ffd700","#ffa500","#ff0000","#8b0000","#ee82ee","#ff00ff","#9400d3","#800000","#000000"]}, "legend": null},
             "detail": {"field": "k"}
           }},
          {"data": {"values": [{"g": -20}, {"g": -15}]}, "mark": {"type": "rule", "color": "#b0b0b0", "strokeWidth": 1, "opacity": 0.8}, "encoding": {"x": {"field": "g", "type": "quantitative"}}},
          {"data": {"values": [{"h": 2}, {"h": 4}, {"h": 6}, {"h": 8}, {"h": 10}]}, "mark": {"type": "rule", "color": "#b0b0b0", "strokeWidth": 1, "opacity": 0.8}, "encoding": {"y": {"field": "h", "type": "quantitative"}}}
        ]
      },
      {
        "width": 342, "height": 272, "title": "2024082314",
        "view": {"fill": "#000080", "stroke": "black"},
        "layer": [
          {"data": {"name": "cont"}, "transform": [{"filter": "datum.p == 'trop14'"}],
           "mark": {"type": "area", "orient": "horizontal", "interpolate": "monotone", "clip": true},
           "encoding": {
             "y": {"field": "alt", "type": "quantitative", "scale": {"domain": [0, 12], "nice": false, "zero": false}, "axis": {"values": [0, 2, 4, 6, 8, 10], "labels": false, "title": null}},
             "x": {"field": "lo", "type": "quantitative", "stack": null, "scale": {"domain": [-25, -10], "nice": false, "zero": false}, "axis": {"values": [-25, -20, -15, -10], "labelExpr": "datum.value == -10 ? '' : '−' + (-datum.value) + '°E'", "labelPadding": 5, "title": null}},
             "x2": {"field": "hi"},
             "color": {"field": "b", "type": "nominal", "scale": {"domain": ["b00","b01","b02","b03","b04","b05","b06","b07","b08","b09","b10","b11","b12","b13","b14","b15","b16"], "range": ["#000080","#0000ff","#6495ed","#00ffff","#2e8b57","#00ff00","#9acd32","#ffff00","#ffd700","#ffa500","#ff0000","#8b0000","#ee82ee","#ff00ff","#9400d3","#800000","#000000"]}, "legend": null},
             "detail": {"field": "k"}
           }},
          {"data": {"values": [{"g": -20}, {"g": -15}]}, "mark": {"type": "rule", "color": "#b0b0b0", "strokeWidth": 1, "opacity": 0.8}, "encoding": {"x": {"field": "g", "type": "quantitative"}}},
          {"data": {"values": [{"h": 2}, {"h": 4}, {"h": 6}, {"h": 8}, {"h": 10}]}, "mark": {"type": "rule", "color": "#b0b0b0", "strokeWidth": 1, "opacity": 0.8}, "encoding": {"y": {"field": "h", "type": "quantitative"}}}
        ]
      },
      {
        "width": 342, "height": 272, "title": "2024082314",
        "view": {"fill": "#000080", "stroke": "black"},
        "layer": [
          {"data": {"name": "cont"}, "transform": [{"filter": "datum.p == 'iasi14'"}],
           "mark": {"type": "area", "orient": "horizontal", "interpolate": "monotone", "clip": true},
           "encoding": {
             "y": {"field": "alt", "type": "quantitative", "scale": {"domain": [0, 12], "nice": false, "zero": false}, "axis": {"values": [0, 2, 4, 6, 8, 10], "labels": false, "title": null}},
             "x": {"field": "lo", "type": "quantitative", "stack": null, "scale": {"domain": [-25, -10], "nice": false, "zero": false}, "axis": {"values": [-25, -20, -15, -10], "labelExpr": "datum.value == -10 ? '' : '−' + (-datum.value) + '°E'", "labelPadding": 5, "title": null}},
             "x2": {"field": "hi"},
             "color": {"field": "b", "type": "nominal", "scale": {"domain": ["b00","b01","b02","b03","b04","b05","b06","b07","b08","b09","b10","b11","b12","b13","b14","b15","b16"], "range": ["#000080","#0000ff","#6495ed","#00ffff","#2e8b57","#00ff00","#9acd32","#ffff00","#ffd700","#ffa500","#ff0000","#8b0000","#ee82ee","#ff00ff","#9400d3","#800000","#000000"]}, "legend": null},
             "detail": {"field": "k"}
           }},
          {"data": {"values": [{"g": -20}, {"g": -15}]}, "mark": {"type": "rule", "color": "#b0b0b0", "strokeWidth": 1, "opacity": 0.8}, "encoding": {"x": {"field": "g", "type": "quantitative"}}},
          {"data": {"values": [{"h": 2}, {"h": 4}, {"h": 6}, {"h": 8}, {"h": 10}]}, "mark": {"type": "rule", "color": "#b0b0b0", "strokeWidth": 1, "opacity": 0.8}, "encoding": {"y": {"field": "h", "type": "quantitative"}}}
        ]
      },
      {
        "width": 342, "height": 272, "title": "2024082314",
        "view": {"fill": "white", "stroke": "black"},
        "layer": [
          {"data": {"name": "obs"}, "transform": [{"filter": "datum.t == '14'"}],
           "mark": {"type": "point", "filled": true, "size": 36, "opacity": 1, "color": "#e8102a", "shape": "M-1,-0.6L-0.6,-1L0,-0.4L0.6,-1L1,-0.6L0.4,0L1,0.6L0.6,1L0,0.4L-0.6,1L-1,0.6L-0.4,0Z"},
           "encoding": {
             "y": {"field": "alt", "type": "quantitative", "scale": {"domain": [0, 12], "nice": false, "zero": false}, "axis": {"values": [0, 2, 4, 6, 8, 10], "labels": false, "title": null, "grid": true, "gridColor": "#b0b0b0", "gridOpacity": 1}},
             "x": {"field": "lon", "type": "quantitative", "scale": {"domain": [-25, -10], "nice": false, "zero": false}, "axis": {"values": [-25, -20, -15, -10], "labelExpr": "datum.value == -10 ? '' : '−' + (-datum.value) + '°E'", "labelPadding": 5, "title": null, "grid": true, "gridColor": "#b0b0b0", "gridOpacity": 1}}
           }}
        ]
      }
    ],
    "spacing": 35, "bounds": "flush"
   }
  ],
  "spacing": 32
 },
 {
  "width": 44, "height": 636,
  "view": {"stroke": null},
  "layer": [
    {"data": {"name": "cbar"}, "mark": {"type": "rect"},
     "encoding": {
       "y": {"field": "i", "type": "quantitative", "scale": {"domain": [0, 18.6], "nice": false, "zero": false}, "axis": null},
       "y2": {"field": "i1"},
       "x": {"datum": 0, "type": "quantitative", "scale": {"domain": [0, 1], "nice": false, "zero": false}, "axis": null},
       "x2": {"datum": 1},
       "color": {"field": "b", "type": "nominal", "scale": {"domain": ["b00","b01","b02","b03","b04","b05","b06","b07","b08","b09","b10","b11","b12","b13","b14","b15","b16"], "range": ["#000080","#0000ff","#6495ed","#00ffff","#2e8b57","#00ff00","#9acd32","#ffff00","#ffd700","#ffa500","#ff0000","#8b0000","#ee82ee","#ff00ff","#9400d3","#800000","#000000"]}, "legend": null}
     }},
    {"data": {"values": [{"v": 17, "a": 0, "c": 1}, {"v": 17.85, "a": 0.5, "c": 0.5}]},
     "mark": {"type": "area", "orient": "horizontal", "color": "black"},
     "encoding": {
       "y": {"field": "v", "type": "quantitative", "axis": null},
       "x": {"field": "a", "type": "quantitative", "stack": null, "axis": null},
       "x2": {"field": "c"}
     }},
    {"data": {"values": [{"z": 1}]},
     "mark": {"type": "rect", "fillOpacity": 0, "stroke": "#333333", "strokeWidth": 0.8},
     "encoding": {
       "x": {"datum": 0, "type": "quantitative", "axis": null}, "x2": {"datum": 1},
       "y": {"datum": 0, "type": "quantitative", "axis": null}, "y2": {"datum": 17}
     }},
    {"data": {"name": "cblab"},
     "mark": {"type": "tick", "orient": "horizontal", "size": 6, "thickness": 1, "color": "black", "opacity": 1},
     "encoding": {
       "y": {"field": "v", "type": "quantitative", "axis": null},
       "x": {"datum": 1.068, "type": "quantitative", "axis": null}
     }},
    {"data": {"name": "cblab"},
     "mark": {"type": "text", "align": "left", "baseline": "middle", "fontSize": 29, "font": "DejaVu Sans", "color": "black"},
     "encoding": {
       "y": {"field": "v", "type": "quantitative", "axis": null},
       "x": {"datum": 1.273, "type": "quantitative", "axis": null},
       "text": {"field": "lab"}
     }},
    {"data": {"values": [{"t": "SO2 concentration (μg.m³)"}]},
     "mark": {"type": "text", "align": "center", "baseline": "alphabetic", "angle": 270, "fontSize": 29, "font": "DejaVu Sans", "color": "black"},
     "encoding": {
       "y": {"datum": 8.51, "type": "quantitative", "axis": null},
       "x": {"datum": 3.682, "type": "quantitative", "axis": null},
       "text": {"field": "t"}
     }},
    {"data": {"values": [{"t": "@Bacles M."}]},
     "mark": {"type": "text", "align": "left", "baseline": "alphabetic", "fontSize": 41, "font": "Open Sans", "color": "#2c0c9c"},
     "encoding": {
       "y": {"datum": 18.746, "type": "quantitative", "axis": null},
       "x": {"datum": -0.227, "type": "quantitative", "axis": null},
       "text": {"field": "t"}
     }}
  ]
 }
],
"spacing": 74
}
